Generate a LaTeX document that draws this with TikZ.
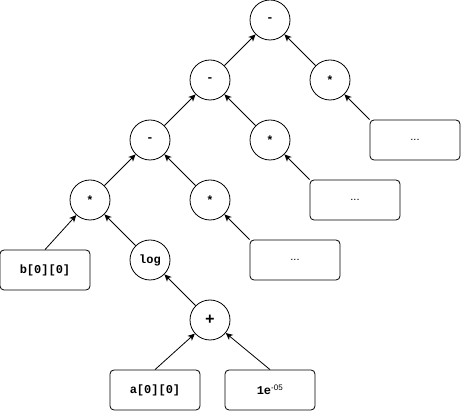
\documentclass[tikz,border=0pt]{standalone}
\usepackage{fontspec}
\setmainfont{Liberation Sans}
\setmonofont{Liberation Mono}
\usepackage{tikz}
\usetikzlibrary{positioning, arrows.meta}
\tikzset{
  op/.style={draw, circle, line width=0.8pt, minimum size=40pt, inner sep=0pt, font=\fontsize{12}{14}\selectfont\ttfamily\bfseries},
  leaf/.style={draw, rounded corners=4pt, line width=0.8pt, minimum width=90pt, minimum height=40pt, inner sep=0pt, font=\fontsize{12}{14}\selectfont\ttfamily\bfseries},
  flow/.style={-{Stealth[length=7pt, width=6.5pt, inset=2pt]}, line width=0.8pt},
}
\newcommand{\elide}{{\normalfont\fontsize{11}{13}\selectfont ...}}
\begin{document}
\begin{tikzpicture}[on grid, node distance=60pt and 60pt]
  \useasboundingbox (0,0) rectangle (461pt,-411pt);
  % operators
  \node[op] (root) at (270pt,-20pt) {-};
  \node[op, below left=of root] (sub2) {-};
  \node[op, below right=of root] (mul1) {*};
  \node[op, below left=of sub2] (sub3) {-};
  \node[op, below right=of sub2] (mul2) {*};
  \node[op, below left=of sub3] (mul3) {*};
  \node[op, below right=of sub3] (mul4) {*};
  \node[op, below right=of mul3] (log) {log};
  \node[op, below right=of log] (plus) {\fontsize{16}{16}\selectfont+};
  % leaves
  \node[leaf, below right=60pt and 85pt of mul1] (dots1) {\elide};
  \node[leaf, below right=60pt and 85pt of mul2] (dots2) {\elide};
  \node[leaf, below right=60pt and 85pt of mul4] (dots3) {\elide};
  \node[leaf, below left=70pt and 45pt of mul3] (b00) {b[0][0]};
  \node[leaf, below left=70pt and 55pt of plus] (a00) {a[0][0]};
  \node[leaf, below right=70pt and 60pt of plus] (eps) {1e\textsuperscript{\normalfont-05}};
  % edges
  \foreach \a/\b in {sub2/root, mul1/root, sub3/sub2, mul2/sub2, mul3/sub3, mul4/sub3, log/mul3, plus/log} \draw[flow] (\a) -- (\b);
  \draw[flow] (dots1.north west) -- (mul1);
  \draw[flow] (dots2.north west) -- (mul2);
  \draw[flow] (dots3.north west) -- (mul4);
  \draw[flow] (b00.north) -- (mul3);
  \draw[flow] (a00.north) -- (plus);
  \draw[flow] (eps.north) -- (plus);
\end{tikzpicture}
\end{document}
